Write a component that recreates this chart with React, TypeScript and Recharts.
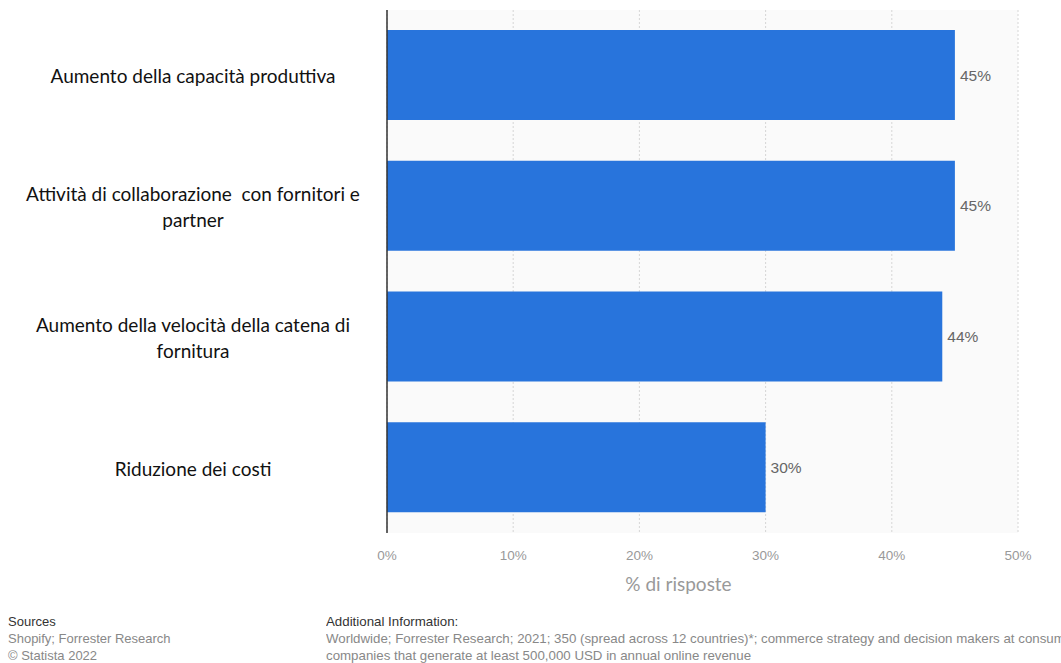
import React from 'react';
import { BarChart, Bar, XAxis, YAxis, CartesianGrid, LabelList, Label } from 'recharts';

const categories = [
  'Aumento della capacità produttiva',
  'Attività di collaborazione  con fornitori e\npartner',
  'Aumento della velocità della catena di\nfornitura',
  'Riduzione dei costi',
];
const shares = [45, 45, 44, 30];
const xTicks = [0, 10, 20, 30, 40, 50];

const data = categories.map((name, i) => ({ name, value: shares[i] }));

// wrapped, centred category label on the left
const CategoryTick = (props: any) => {
  const { y, payload } = props;
  const lines = String(payload.value).split('\n');
  const lh = 26;
  const startY = y - ((lines.length - 1) * lh) / 2;
  return (
    <text
      x={193}
      y={startY}
      textAnchor="middle"
      dominantBaseline="central"
      fill="#111"
      fontFamily="Lato, 'Open Sans', sans-serif"
      fontSize={19}
    >
      {lines.map((l, i) => (
        <tspan key={i} x={193} y={startY + i * lh} style={{ whiteSpace: 'pre' }}>
          {l}
        </tspan>
      ))}
    </text>
  );
};

const App: React.FC = () => {
  return (
    <div style={{ position: 'absolute', left: 0, top: 0, width: 1061, height: 663, background: '#fff' }}>
      <BarChart
        width={1061}
        height={600}
        data={data}
        layout="vertical"
        margin={{ top: 10, right: 43, left: 0, bottom: 37 }}
        barSize={90}
      >
        <CartesianGrid horizontal={false} stroke="#d6d6d6" strokeDasharray="2 2" fill="#fafafa" />
        <XAxis
          type="number"
          domain={[0, 50]}
          ticks={xTicks}
          tickFormatter={(v) => `${v}%`}
          axisLine={false}
          tickLine={false}
          tickMargin={11}
          tick={{ fill: '#999', fontSize: 13.5, fontFamily: 'Arial, Liberation Sans, sans-serif' }}
        >
          <Label
            value="% di risposte"
            position="insideBottom"
            offset={-28}
            dx={-24}
            fill="#999"
            fontSize={19}
            fontFamily="Lato, 'Open Sans', sans-serif"
          />
        </XAxis>
        <YAxis
          type="category"
          dataKey="name"
          width={387}
          axisLine={{ stroke: '#333', strokeWidth: 1.5 }}
          tickLine={false}
          tick={<CategoryTick />}
          interval={0}
        />
        <Bar dataKey="value" fill="#2874dc" isAnimationActive={false}>
          <LabelList
            dataKey="value"
            position="right"
            offset={5}
            formatter={(v: any) => `${v}%`}
            fill="#666"
            fontSize={15.5}
            fontFamily="Arial, Liberation Sans, sans-serif"
          />
        </Bar>
      </BarChart>
      <div style={{ position: 'absolute', left: 8, top: 613, fontFamily: 'Arial, Liberation Sans, sans-serif', fontSize: 13, lineHeight: '17px', color: '#888' }}>
        <div style={{ color: '#333' }}>Sources</div>
        <div>Shopify; Forrester Research</div>
        <div>© Statista 2022</div>
      </div>
      <div style={{ position: 'absolute', left: 326, top: 613, width: 735, overflow: 'hidden', whiteSpace: 'nowrap', fontFamily: 'Arial, Liberation Sans, sans-serif', fontSize: 13.3, lineHeight: '17px', color: '#888' }}>
        <div style={{ color: '#333' }}>Additional Information:</div>
        <div>Worldwide; Forrester Research; 2021; 350 (spread across 12 countries)*; commerce strategy and decision makers at consumer</div>
        <div>companies that generate at least 500,000 USD in annual online revenue</div>
      </div>
    </div>
  );
};

export default App;
